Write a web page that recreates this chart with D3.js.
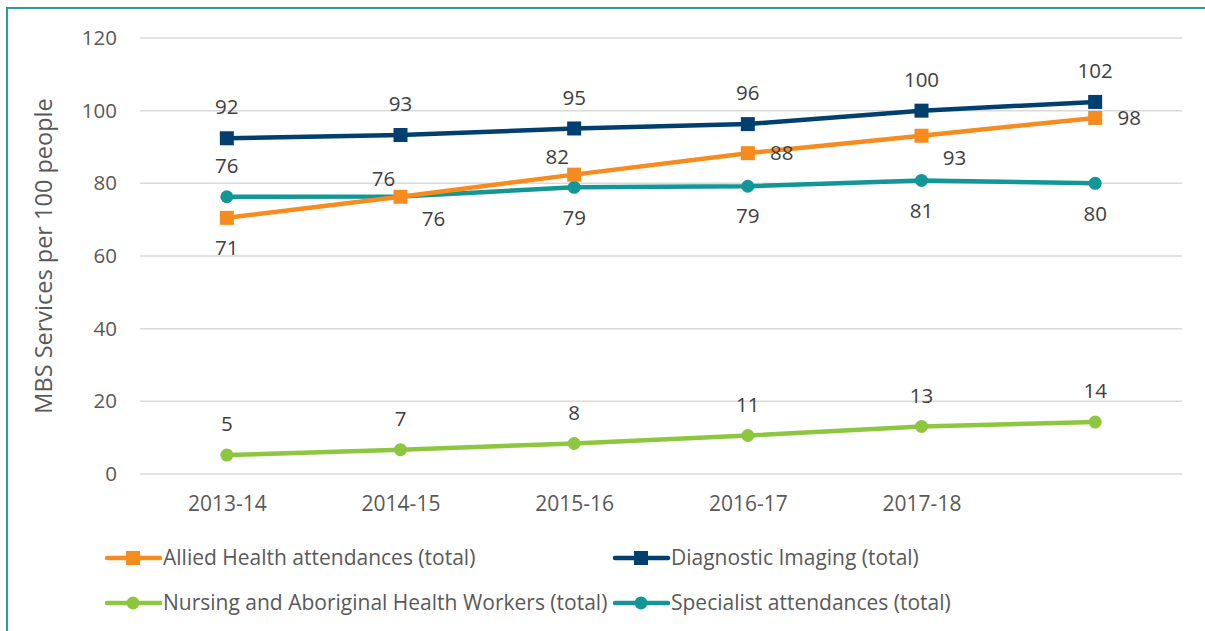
<!DOCTYPE html>
<html lang="en">
<head>
  <meta charset="UTF-8">
  <title>MBS Services</title>
  <script src="https://d3js.org/d3.v7.min.js"></script>
  <style>
    body { margin: 0; background: #fff; }
    text { font-family: "Open Sans", sans-serif; }
  </style>
</head>
<body>
  <div id="chart"></div>
  <script>

    // categories (last year has no label in the original)
    const years = ['2013-14', '2014-15', '2015-16', '2016-17', '2017-18', ''];
    const yTicks = [0, 20, 40, 60, 80, 100, 120];

    const alliedHealth = [70.5, 76.3, 82.4, 88.3, 93.1, 98.0];
    const diagnosticImaging = [92.4, 93.3, 95.1, 96.3, 100.0, 102.4];
    const nursingAboriginal = [5.2, 6.7, 8.4, 10.6, 13.1, 14.3];
    const specialist = [76.3, 76.4, 78.9, 79.2, 80.8, 80.0];

    const width = 1205, height = 631;
    const margin = { top: 38, right: 23, bottom: 157, left: 140 };

    const svg = d3.select('#chart').append('svg')
      .attr('width', width)
      .attr('height', height);

    // frame
    svg.append('rect')
      .attr('x', 7).attr('y', 8)
      .attr('width', width + 10).attr('height', height + 10)
      .attr('fill', 'none')
      .attr('stroke', '#2a9d9d')
      .attr('stroke-width', 2);

    const x = d3.scalePoint()
      .domain(d3.range(years.length))
      .range([margin.left, width - margin.right])
      .padding(0.5);

    const y = d3.scaleLinear()
      .domain([0, 120])
      .range([height - margin.bottom, margin.top]);

    // gridlines
    svg.append('g')
      .selectAll('line')
      .data(yTicks)
      .join('line')
      .attr('x1', margin.left)
      .attr('x2', width - margin.right)
      .attr('y1', d => y(d))
      .attr('y2', d => y(d))
      .attr('stroke', '#d9d9d9')
      .attr('stroke-width', 1.5);

    // y axis labels
    const yAxis = svg.append('g')
      .attr('transform', `translate(${margin.left - 23},0)`)
      .call(d3.axisLeft(y).tickValues(yTicks).tickSize(0).tickPadding(0));
    yAxis.select('.domain').remove();
    yAxis.selectAll('text')
      .attr('fill', '#595959')
      .style('font-size', '20.5px')
      .style('font-family', '"Open Sans", sans-serif');

    // x axis labels
    const xAxis = svg.append('g')
      .attr('transform', `translate(0,${y(0) + 22})`)
      .call(d3.axisBottom(x).tickFormat(i => years[i]).tickSize(0).tickPadding(0));
    xAxis.select('.domain').remove();
    xAxis.selectAll('text')
      .attr('fill', '#595959')
      .style('font-size', '21px')
      .style('font-family', '"Open Sans", sans-serif');

    // y title
    svg.append('text')
      .attr('transform', `translate(52,${y(60)}) rotate(-90)`)
      .attr('text-anchor', 'middle')
      .attr('fill', '#595959')
      .style('font-size', '23.5px')
      .text('MBS Services per 100 people');

    const series = [
      { name: 'Allied Health attendances (total)', values: alliedHealth, color: '#f68b1f', shape: 'square',
        labels: ['b', 'br', 'tl', 'r', 'br', 'r'] },
      { name: 'Diagnostic Imaging (total)', values: diagnosticImaging, color: '#003f6e', shape: 'square',
        labels: ['t', 't', 't', 't', 't', 't'] },
      { name: 'Nursing and Aboriginal Health Workers (total)', values: nursingAboriginal, color: '#8dc63f', shape: 'circle',
        labels: ['t', 't', 't', 't', 't', 't'] },
      { name: 'Specialist attendances (total)', values: specialist, color: '#139696', shape: 'circle',
        labels: ['t', 'tl', 'b', 'b', 'b', 'b'] }
    ];

    const offsets = {
      t: [0, -31], b: [0, 30], r: [34, 0], br: [33, 22], tl: [-17, -18]
    };

    const line = d3.line()
      .x((d, i) => x(i))
      .y(d => y(d));

    // draw back to front as in the original
    const drawOrder = [2, 3, 0, 1];

    drawOrder.forEach(k => {
      const s = series[k];
      const g = svg.append('g');
      g.append('path')
        .datum(s.values)
        .attr('d', line)
        .attr('fill', 'none')
        .attr('stroke', s.color)
        .attr('stroke-width', 4.5)
        .attr('stroke-linejoin', 'round');

      if (s.shape === 'square') {
        g.selectAll('rect')
          .data(s.values)
          .join('rect')
          .attr('x', (d, i) => x(i) - 7)
          .attr('y', d => y(d) - 7)
          .attr('width', 14)
          .attr('height', 14)
          .attr('fill', s.color);
      } else {
        g.selectAll('circle')
          .data(s.values)
          .join('circle')
          .attr('cx', (d, i) => x(i))
          .attr('cy', d => y(d))
          .attr('r', 6.5)
          .attr('fill', s.color);
      }
    });

    // data labels
    series.forEach(s => {
      svg.append('g')
        .selectAll('text')
        .data(s.values)
        .join('text')
        .attr('x', (d, i) => x(i) + offsets[s.labels[i]][0])
        .attr('y', (d, i) => y(d) + offsets[s.labels[i]][1])
        .attr('dy', '0.35em')
        .attr('text-anchor', 'middle')
        .attr('fill', '#404040')
        .style('font-size', '20.5px')
        .text(d => Math.round(d));
    });

    // legend
    const legendPos = [[105, 558], [613, 558], [105, 603], [613, 603]];
    series.forEach((s, k) => {
      const [lx, ly] = legendPos[k];
      const g = svg.append('g').attr('transform', `translate(${lx},${ly})`);
      g.append('line')
        .attr('x1', 2).attr('x2', 55)
        .attr('stroke', s.color)
        .attr('stroke-width', 4.5)
        .attr('stroke-linecap', 'round');
      if (s.shape === 'square') {
        g.append('rect')
          .attr('x', 21).attr('y', -7)
          .attr('width', 14).attr('height', 14)
          .attr('fill', s.color);
      } else {
        g.append('circle')
          .attr('cx', 28).attr('r', 6.5)
          .attr('fill', s.color);
      }
      g.append('text')
        .attr('x', 58)
        .attr('dy', '0.35em')
        .attr('fill', '#595959')
        .style('font-size', '21px')
        .text(s.name);
    });

  </script>
</body>
</html>
